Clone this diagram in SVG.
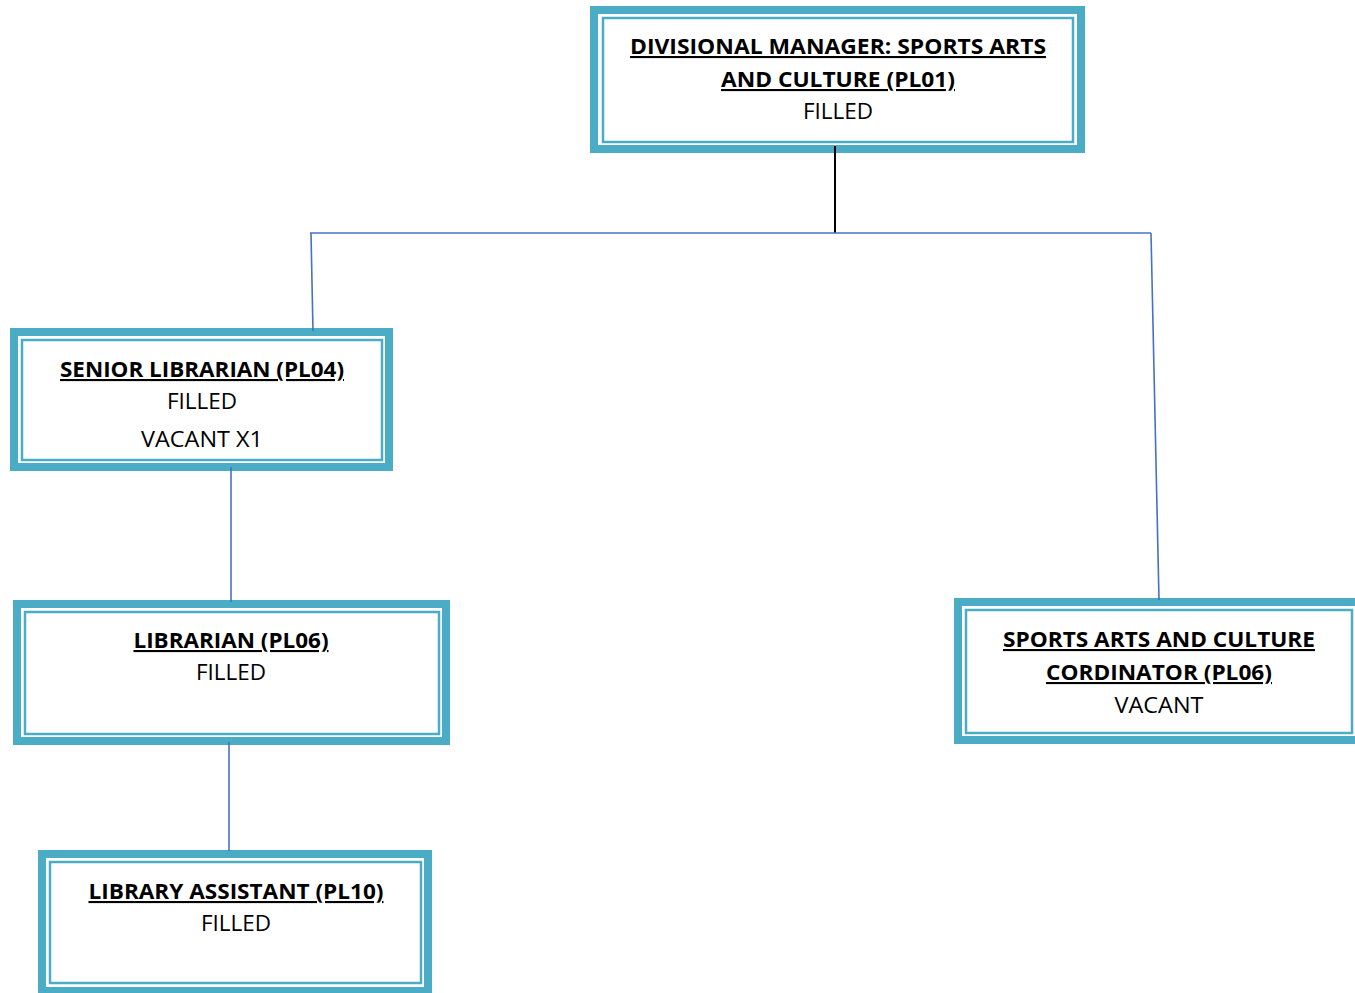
<svg xmlns="http://www.w3.org/2000/svg" width="1355" height="993" viewBox="0 0 1355 993">
<style>
.outer{fill:#fff;stroke:#4BACC6;stroke-width:8}
.inner{fill:none;stroke:#4BACC6;stroke-width:2.5}
.t{font-family:"Open Sans","Liberation Sans",sans-serif;font-size:21px;fill:#000;text-anchor:middle}
.b{font-weight:bold;text-decoration:underline}
.c{stroke:#4472C4;stroke-width:1.6;fill:none}
</style>
<rect width="1355" height="993" fill="#fff"/>
<g id="n-divisional-manager">
<rect class="outer" x="594" y="10" width="487" height="139"/>
<rect class="inner" x="603" y="18" width="470" height="124"/>
<text class="t b" x="838" y="54" textLength="416" lengthAdjust="spacingAndGlyphs">DIVISIONAL MANAGER: SPORTS ARTS</text>
<text class="t b" x="838" y="87" textLength="234" lengthAdjust="spacingAndGlyphs">AND CULTURE (PL01)</text>
<text class="t" x="838" y="119" textLength="70" lengthAdjust="spacingAndGlyphs">FILLED</text>
</g>
<g id="n-senior-librarian">
<rect class="outer" x="14" y="332" width="375" height="135"/>
<rect class="inner" x="22" y="340" width="360" height="120"/>
<text class="t b" x="202" y="377" textLength="284" lengthAdjust="spacingAndGlyphs">SENIOR LIBRARIAN (PL04)</text>
<text class="t" x="202" y="409" textLength="70" lengthAdjust="spacingAndGlyphs">FILLED</text>
<text class="t" x="202" y="447" textLength="122" lengthAdjust="spacingAndGlyphs">VACANT X1</text>
</g>
<g id="n-librarian">
<rect class="outer" x="17" y="604" width="429" height="137"/>
<rect class="inner" x="25" y="612" width="414" height="122"/>
<text class="t b" x="231" y="648" textLength="195" lengthAdjust="spacingAndGlyphs">LIBRARIAN (PL06)</text>
<text class="t" x="231" y="680" textLength="70" lengthAdjust="spacingAndGlyphs">FILLED</text>
</g>
<g id="n-coordinator">
<rect class="outer" x="958" y="602" width="402" height="138"/>
<rect class="inner" x="966" y="610" width="386" height="123"/>
<text class="t b" x="1159" y="647" textLength="312" lengthAdjust="spacingAndGlyphs">SPORTS ARTS AND CULTURE</text>
<text class="t b" x="1159" y="680" textLength="226" lengthAdjust="spacingAndGlyphs">CORDINATOR (PL06)</text>
<text class="t" x="1159" y="713" textLength="89" lengthAdjust="spacingAndGlyphs">VACANT</text>
</g>
<g id="n-library-assistant">
<rect class="outer" x="42" y="854" width="386" height="137"/>
<rect class="inner" x="50" y="862" width="371" height="121"/>
<text class="t b" x="236" y="899" textLength="295" lengthAdjust="spacingAndGlyphs">LIBRARY ASSISTANT (PL10)</text>
<text class="t" x="236" y="931" textLength="70" lengthAdjust="spacingAndGlyphs">FILLED</text>
</g>
<g id="connectors">
<line x1="835" y1="146" x2="835" y2="233" stroke="#000" stroke-width="2"/>
<line class="c" x1="310" y1="233" x2="1151" y2="233"/>
<line class="c" x1="311" y1="233" x2="313" y2="331"/>
<line class="c" x1="1151" y1="233" x2="1159" y2="600"/>
<line class="c" x1="231" y1="467" x2="231" y2="602"/>
<line class="c" x1="229" y1="742" x2="229" y2="851"/>
</g>
</svg>
